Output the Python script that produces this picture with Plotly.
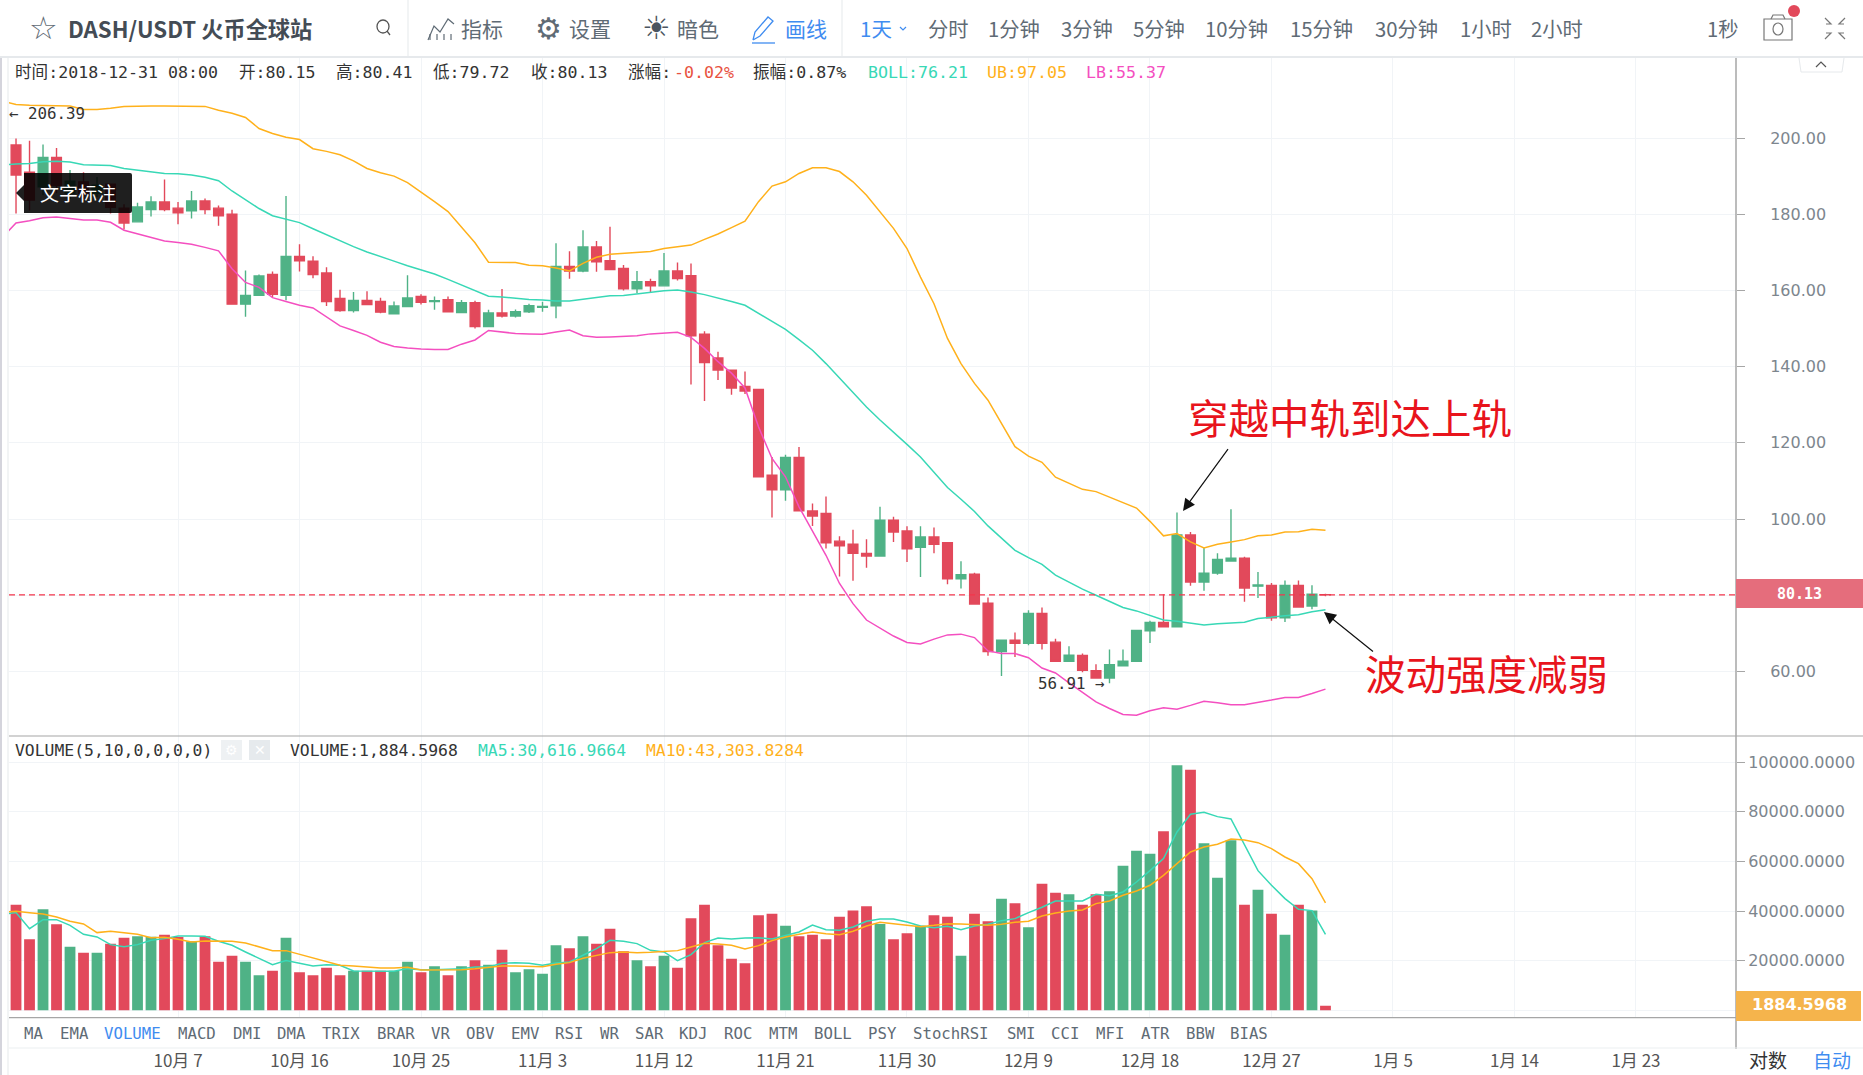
import pandas as pd
import plotly.graph_objects as go

W, H = 1863, 1075
LEFT, RIGHT = 9, 1736
TOP, BOTTOM = 58, 1049

FONT_MONO = "DejaVu Sans Mono, Noto Sans CJK SC, monospace"
FONT_CJK = "Noto Sans CJK SC, sans-serif"
FONT_NUM = "DejaVu Sans, sans-serif"

RED = "#e2495b"
GREEN = "#4fb286"
TEAL = "#38d8b6"
ORANGE = "#ffb11b"
PINK = "#f44fc0"
BLUE = "#3f8cf0"
TEXT = "#333333"
GREY = "#5f6b75"
GRID = "#f1f4f7"
AXIS = "#a6a6a6"

# daily candles, 2018-09-25 .. 2018-12-31
opens = [
    198.2, 191, 187.2, 194.9, 185.5, 188.5, 185.5, 187.9, 181.6, 178,
    181.2, 183.2, 181.6, 180.9, 183.5, 181.6, 180, 156.4, 158.7, 164.2,
    158.7, 168.9, 167.7, 164.6, 157.9, 154.7, 157.4, 157.1, 153.9, 155.8,
    158.4, 157.1, 157.6, 154.2, 156.8, 150.5, 154.1, 153.3, 154.4, 155.6,
    156, 166.3, 165.1, 171.4, 167.8, 165.8, 160.4, 162.3, 161.2, 165.1,
    163.9, 148.5, 142.3, 139.1, 134.8, 134, 111.5, 107.7, 116.2, 102.1,
    101.5, 94.2, 93.4, 91, 90.3, 99.7, 96.9, 92.6, 95.3, 93.8,
    84.3, 85.5, 77.9, 65.2, 68.2, 67.4, 75.2, 67.7, 62.7, 64.2,
    60.2, 58.3, 61.5, 62.7, 70.7, 72.9, 71.7, 95.8, 83.5, 85.8,
    89, 89.7, 82.4, 82.6, 74.1, 82.6, 77.2, 80.15,
]
closes = [
    190.3, 183.7, 194.9, 187.6, 188.7, 185.5, 187.6, 181.8, 177.7, 181.9,
    183.2, 181.2, 180.4, 183.5, 181.2, 179.6, 156.4, 158.7, 163.8, 159,
    168.9, 167.8, 164.2, 157.1, 154.7, 157.4, 156.3, 154.3, 155.9, 158,
    156.9, 157.3, 154.4, 156.8, 150.5, 154.1, 153.3, 154.4, 156, 155.8,
    166.3, 165.1, 171.4, 167.5, 165.5, 160.4, 162.3, 161.2, 165.1, 163.1,
    148.1, 141.1, 139.1, 134.4, 133.6, 111.1, 107.7, 116.2, 102.2, 100.8,
    93.8, 93, 91, 90.3, 99.7, 96.6, 92.2, 95.3, 93.4, 84.3,
    85.4, 77.7, 65.2, 68.2, 67.4, 75.2, 67.4, 62.7, 64.3, 60.3,
    58.3, 61.8, 62.7, 70.8, 72.9, 71.7, 95.8, 83.5, 85.8, 89.4,
    89.7, 81.9, 82.7, 74.1, 82.6, 76.9, 80.3, 80.13,
]
highs = [
    199.9, 199.3, 198.3, 197.4, 191.6, 191, 189.8, 188, 182.6, 183,
    184.7, 189.1, 183.2, 186.1, 184.1, 182.3, 181.2, 165.2, 164.2, 165,
    184.8, 172.1, 169, 166.1, 160.2, 159.6, 159.8, 158.1, 157.1, 164,
    159, 158.4, 158.4, 157.5, 157.3, 154.9, 160.4, 155, 156.5, 157,
    172.4, 170.3, 175.8, 173, 176.7, 166.7, 165.1, 163.1, 169.8, 167.3,
    167.1, 149.3, 143.9, 139.1, 138.7, 134, 116.3, 116.9, 118.9, 104.1,
    105.9, 95.5, 97.2, 94.7, 103.2, 100.6, 98.1, 98.1, 97.8, 93.8,
    88.9, 85.9, 79.4, 68.3, 70.2, 76.1, 76.8, 68.6, 66.6, 64.7,
    61.9, 65.8, 65.8, 70.8, 73.3, 80.3, 101.7, 96.6, 92.4, 91,
    102.6, 90.1, 86.1, 83.2, 83.9, 83.9, 82.6, 80.41,
]
lows = [
    180.2, 181, 185, 185.5, 184, 184, 184.5, 180.2, 176, 178,
    179.4, 180.8, 177.4, 178.9, 180, 177, 156.4, 153.1, 158.7, 158.2,
    157.4, 165, 163.2, 155.9, 154.4, 154.2, 156.3, 154, 153.9, 155.8,
    156.3, 154.9, 154.4, 154.2, 150, 150.5, 152.9, 152.9, 154.1, 154.4,
    152.7, 163.1, 164.8, 164.9, 165.3, 160, 159.3, 159.6, 161.2, 162.6,
    135.3, 131, 136.5, 132.6, 132.8, 111.1, 100.4, 104.8, 102.2, 98.2,
    92.3, 84.9, 83.8, 87.2, 90.3, 94, 88.7, 84.8, 91, 82.9,
    81.8, 77.7, 64.1, 58.8, 63.8, 66.9, 65.8, 62.5, 62.7, 59.8,
    58.3, 56.91, 61.5, 62.7, 67.5, 71.7, 71.7, 82.5, 81.2, 85.4,
    89, 78.3, 79.3, 73.3, 73, 76.9, 76.3, 79.72,
]
volumes = [
    42600, 28630, 40720, 34680, 25670, 23250, 23250, 26880, 29300, 29840,
    29700, 30510, 29570, 27820, 29840, 19620, 22040, 19620, 14110, 15990,
    29300, 15320, 14110, 17200, 14110, 15990, 15990, 15990, 15990, 19620,
    15320, 17740, 14110, 17740, 20160, 18410, 24460, 15320, 16530, 14780,
    26210, 25000, 29840, 26880, 32930, 23790, 20160, 17740, 22040, 17200,
    37090, 42600, 26210, 20830, 18950, 38300, 38980, 34140, 29840, 30510,
    28630, 37770, 40190, 41930, 34810, 28630, 31050, 34140, 38300, 37770,
    22040, 38980, 35880, 45020, 43140, 33470, 51070, 47440, 46770, 42600,
    46770, 47980, 58330, 64380, 63170, 72170, 98780, 97040, 67330, 53490,
    68540, 42600, 48650, 38980, 30510, 42600, 40190, 1884.6,
]

# indicator lines start one day before the first visible candle
boll_mid = [
    192.9, 193.2, 193.3, 193.8, 193.9, 193.7, 193, 192.9, 192.8, 192, 191.6,
    191.2, 190.7, 190.6, 190.3, 189.7, 188.8, 186.1, 183.7, 181.5, 179.6,
    178.6, 177.8, 176.2, 174.6, 173.1, 171.5, 170.1, 168.8, 167.7, 166.5,
    165.4, 164.3, 162.9, 161.4, 159.9, 158.5, 158.3, 158, 157.6, 157.5,
    157.2, 157.2, 157.7, 158.2, 158.6, 158.7, 159.1, 159.4, 159.9, 160.1,
    159.6, 158.9, 158.1, 157.1, 156.1, 154, 151.8, 149.8, 147.1, 144.3,
    140.8, 137, 133, 129.4, 126, 122.9, 119.6, 116.3, 112.4, 108.3,
    105.2, 102, 98.2, 94.9, 91.8, 89.9, 88.1, 85.3, 83.4, 81.6,
    80, 78.4, 76.8, 75.9, 74.7, 73.5, 73.2, 72.6, 72.2, 72.5,
    72.7, 72.9, 73.9, 74.3, 74.6, 74.9, 75.7, 76.21,
]
boll_upper = [
    209.7, 208.8, 208.6, 208.6, 208.5, 208.4, 207.5, 207.5, 207.8, 208.3, 208.4,
    208.4, 208.4, 208.4, 208.4, 208.3, 207.3, 206.5, 205.4, 202.5, 201.2,
    200.2, 199.6, 197.2, 196.5, 195.6, 194, 192, 190.9, 190, 188.3,
    185.9, 183.3, 180.7, 176.7, 172.5, 167.4, 167.4, 167.3, 166.6, 166.5,
    165.9, 165.1, 167.1, 168.7, 169.5, 169.7, 170, 170.2, 171, 171.4,
    171.9, 173.4, 174.8, 176.5, 178.2, 183.3, 187.4, 188.5, 190.7, 192.2,
    192.2, 191.2, 188.5, 185, 180.6, 176.3, 171, 163.5, 156.5, 147.4,
    140.8, 135.6, 131.2, 125.1, 119, 116.5, 114.9, 111, 109.3, 107.8,
    107.2, 105.8, 104.4, 102.9, 99.4, 95.6, 96.2, 94, 92.4, 93.4,
    94, 94.6, 95.6, 95.8, 96.6, 96.7, 97.3, 97.05,
]
boll_lower = [
    174, 177.7, 178.3, 179.1, 179.3, 178.9, 178.5, 178.5, 177.9, 175.8, 174.8,
    173.9, 173, 172.6, 172.1, 171.3, 170.4, 165.7, 162.1, 160.8, 158.1,
    157.1, 156.1, 155.4, 153, 150.7, 149.5, 148.2, 146.4, 145.3, 144.9,
    144.6, 144.5, 144.5, 145.9, 147, 149.5, 149, 148.7, 148.6, 148.5,
    149.1, 149.6, 148.1, 147.7, 147.8, 147.9, 148.1, 148.6, 148.8, 149,
    147.7, 144.8, 141.3, 138.3, 134.4, 124.2, 115.9, 111.1, 103.2, 97,
    90.5, 83.1, 77.8, 73.5, 71.3, 69.3, 67.6, 67.2, 68.5, 69.6,
    69.8, 68.9, 65.4, 64.7, 64.7, 63.6, 60.9, 59.6, 57, 54.6,
    52, 50.3, 48.7, 48.5, 49.7, 50.5, 50.1, 51.1, 52.2, 51.8,
    51.3, 51.3, 52, 52.5, 53.2, 53.2, 54.2, 55.37,
]
vol_ma5 = [
    38700, 39380, 32930, 36560, 36560, 34270, 30640, 29570, 26480, 25670, 26480,
    28220, 28900, 29970, 29970, 29840, 27820, 26210, 23520, 21100, 18410,
    20030, 18950, 17880, 18410, 18140, 15860, 15860, 15720, 15720, 16800,
    16400, 16400, 16530, 16800, 17470, 17470, 18950, 19220, 18950, 18140,
    19080, 19490, 22180, 24860, 28220, 27820, 26880, 24190, 23520, 20030,
    22440, 27280, 29160, 28760, 29160, 29300, 28760, 30240, 31580, 34410,
    32520, 32260, 33600, 35880, 36830, 36830, 35620, 34000, 33330, 33870,
    32520, 34000, 34680, 36150, 36960, 39380, 41530, 44080, 44080, 44080,
    46770, 46230, 47710, 51740, 56310, 61150, 71900, 79030, 79830, 78090,
    77150, 66530, 56310, 50400, 45020, 40720, 40190, 30617,
]
vol_ma10 = [
    39650, 39920, 39380, 38840, 37630, 35880, 34810, 31320, 31850, 31180, 30640,
    29300, 29430, 28630, 27550, 27960, 27820, 27820, 27150, 25670, 24060,
    24060, 22580, 21100, 19890, 18140, 17880, 17470, 17070, 17070, 17340,
    16260, 16260, 16260, 16400, 16800, 17200, 17880, 17880, 17880, 17610,
    18550, 19220, 20970, 22180, 23250, 23520, 23250, 23390, 23790, 24060,
    25540, 27010, 26750, 26210, 24730, 26070, 28090, 29570, 30640, 31580,
    30910, 30510, 31850, 34000, 35480, 34940, 34270, 33730, 34270, 34940,
    34810, 34680, 34270, 34680, 35480, 35880, 38040, 39240, 40050, 40450,
    43010, 44080, 46370, 48110, 50400, 54430, 59140, 63840, 65860, 66930,
    69080, 68680, 67600, 65180, 61820, 59140, 53090, 43304,
]

# the 80 and 0 labels sit under the last-value flags, so they stay blank
price_ticks = [60, 80, 100, 120, 140, 160, 180, 200]
price_labels = ["60.00", "", "100.00", "120.00", "140.00", "160.00", "180.00", "200.00"]
volume_ticks = [0, 20000, 40000, 60000, 80000, 100000]
volume_labels = ["", "20000.0000", "40000.0000", "60000.0000", "80000.0000", "100000.0000"]
date_ticks = ["2018-10-07", "2018-10-16", "2018-10-25", "2018-11-03", "2018-11-12",
              "2018-11-21", "2018-11-30", "2018-12-09", "2018-12-18", "2018-12-27",
              "2019-01-05", "2019-01-14", "2019-01-23"]
date_labels = ["10月 7", "10月 16", "10月 25", "11月 3", "11月 12", "11月 21", "11月 30",
               "12月 9", "12月 18", "12月 27", "1月 5", "1月 14", "1月 23"]

period_labels = ["分时", "1分钟", "3分钟", "5分钟", "10分钟", "15分钟", "30分钟", "1小时", "2小时"]
period_lefts = [928, 988, 1061, 1133, 1205, 1290, 1375, 1460, 1531]
tool_labels = ["指标", "设置", "暗色", "画线"]
tool_lefts = [461, 569, 677, 785]
study_labels = ["MA", "EMA", "VOLUME", "MACD", "DMI", "DMA", "TRIX", "BRAR", "VR", "OBV", "EMV",
                "RSI", "WR", "SAR", "KDJ", "ROC", "MTM", "BOLL", "PSY", "StochRSI", "SMI", "CCI",
                "MFI", "ATR", "BBW", "BIAS"]
study_lefts = [24, 60, 104, 178, 233, 277, 322, 377, 431, 466, 511, 555, 600, 635, 679, 724, 769,
               814, 868, 913, 1007, 1051, 1096, 1141, 1186, 1230]

candle_dates = pd.date_range("2018-09-25", periods=len(closes))
line_dates = pd.date_range("2018-09-24", periods=len(boll_mid))


def fx(x):
    return (x - LEFT) / (RIGHT - LEFT)


def fy(y):
    return (BOTTOM - y) / (BOTTOM - TOP)


annotations = []
shapes = []


def label(x, y, s, size=16, color=TEXT, font=FONT_MONO, anchor="left", bold=False):
    annotations.append(dict(
        x=fx(x), y=fy(y), xref="paper", yref="paper", text=f"<b>{s}</b>" if bold else s,
        showarrow=False, xanchor=anchor, yanchor="middle", borderpad=0, borderwidth=0,
        font=dict(size=size, color=color, family=font),
    ))


def arrow(x0, y0, x1, y1):
    annotations.append(dict(
        x=fx(x1), y=fy(y1), ax=x0 - x1, ay=y0 - y1, xref="paper", yref="paper",
        axref="pixel", ayref="pixel", text=" ", showarrow=True, arrowhead=2,
        arrowsize=2, arrowwidth=1.2, arrowcolor="#111111",
    ))


def rect(x0, y0, x1, y1, fill, line=None, width=0, kind="rect"):
    shapes.append(dict(
        type=kind, xref="paper", yref="paper", x0=fx(x0), x1=fx(x1), y0=fy(y0), y1=fy(y1),
        fillcolor=fill, line=dict(color=line or fill, width=width), layer="above",
    ))


def stroke(points, color, width=1.5, closed=False, fill=None):
    path = "M " + " L ".join(f"{fx(x):.5f} {fy(y):.5f}" for x, y in points) + (" Z" if closed else "")
    shapes.append(dict(
        type="path", xref="paper", yref="paper", path=path, layer="above",
        line=dict(color=color, width=width), fillcolor=fill or "rgba(0,0,0,0)",
    ))


fig = go.Figure()
fig.add_trace(go.Candlestick(
    x=candle_dates, open=opens, high=highs, low=lows, close=closes,
    increasing=dict(line=dict(color=GREEN, width=1.4), fillcolor=GREEN),
    decreasing=dict(line=dict(color=RED, width=1.4), fillcolor=RED),
    whiskerwidth=0, xaxis="x", yaxis="y", showlegend=False,
))
for values, color in [(boll_mid, TEAL), (boll_upper, ORANGE), (boll_lower, PINK)]:
    fig.add_trace(go.Scatter(
        x=line_dates, y=values, mode="lines", line=dict(color=color, width=1.5),
        xaxis="x", yaxis="y", showlegend=False,
    ))
fig.add_trace(go.Bar(
    x=candle_dates, y=volumes, xaxis="x2", yaxis="y2", showlegend=False,
    marker=dict(color=[GREEN if c > o else RED for o, c in zip(opens, closes)], line=dict(width=0)),
))
for values, color in [(vol_ma5, TEAL), (vol_ma10, ORANGE)]:
    fig.add_trace(go.Scatter(
        x=line_dates, y=values, mode="lines", line=dict(color=color, width=1.5),
        xaxis="x2", yaxis="y2", showlegend=False,
    ))

# page chrome
rect(0, 0, W, 56, "#ffffff")
rect(0, 56, W, 58, "#e6e9ec")
rect(0, 58, 2, H, "#d4d4dc")
rect(7.5, 58, 8.5, H, "#e6e9ec")
rect(407.5, 0, 408.5, 56, "#e6e9ec")
rect(841.5, 0, 842.5, 56, "#e6e9ec")
rect(RIGHT - 0.75, TOP, RIGHT + 0.75, BOTTOM, AXIS)
rect(LEFT, 735.5, W, 736.5, AXIS)
rect(LEFT, 1017, RIGHT, 1018.2, AXIS)
rect(LEFT, 1047.5, W, 1048.5, "#eceff2")

# last price line and axis flags
shapes.append(dict(type="line", xref="paper", yref="y", x0=0, x1=1, y0=80.13, y1=80.13, layer="above",
                   line=dict(color="#f4364c", width=1.2, dash="6px,4px")))
rect(RIGHT, 579, W, 608, "#e56d7c")
label(1799, 594, "80.13", 15, "#ffffff", FONT_MONO, "center", True)
rect(RIGHT, 991, 1861, 1021, "#f5b44c")
label(1799, 1004, "1884.5968", 16, "#ffffff", FONT_NUM, "center", True)

# toolbar
label(43, 28, "☆", 32, GREY, FONT_NUM, "center")
label(68, 28, "DASH/USDT 火币全球站", 22.2, "#444c55", FONT_CJK, bold=True)
rect(377, 20, 389, 33, "rgba(0,0,0,0)", "#555555", 1.3, "circle")
stroke([(387, 31), (390, 35)], "#555555", 1.3)
stroke([(428, 40), (434, 26), (440, 32), (448, 19), (454, 24)], GREY, 1.2)
for x_bar in (430, 437, 444, 451):
    stroke([(x_bar, 40), (x_bar, 34)], GREY, 1.2)
label(548, 28, "⚙", 30, GREY, FONT_NUM, "center")
label(656, 28, "☀", 32, "#4a5560", FONT_NUM, "center")
stroke([(753, 40), (755, 32), (768, 17), (773, 21), (760, 36), (753, 40)], BLUE, 1.3)
stroke([(752, 43), (775, 43)], BLUE, 1.3)
for text, left in zip(tool_labels, tool_lefts):
    label(left, 28, text, 21, BLUE if text == "画线" else GREY, FONT_CJK)
label(860, 28, "1天", 20.5, BLUE, FONT_CJK)
stroke([(900, 27), (903, 30), (906, 27)], BLUE, 1.2)
for text, left in zip(period_labels, period_lefts):
    label(left, 28, text, 20.3, GREY, FONT_CJK)
label(1707, 28, "1秒", 20.3, GREY, FONT_CJK)
rect(1764, 19, 1792, 40, "rgba(0,0,0,0)", "#777777", 1.2)
rect(1773, 23, 1783, 35, "rgba(0,0,0,0)", "#777777", 1.2, "circle")
stroke([(1771, 19), (1773, 15), (1783, 15), (1785, 19)], "#777777", 1.2)
rect(1788, 5, 1800, 17, RED, None, 0, "circle")
stroke([(1825, 18), (1831, 24), (1826, 24)], "#777777", 1.2)
stroke([(1845, 18), (1839, 24), (1844, 24)], "#777777", 1.2)
stroke([(1825, 39), (1831, 33), (1826, 33)], "#777777", 1.2)
stroke([(1845, 39), (1839, 33), (1844, 33)], "#777777", 1.2)
stroke([(1799, 58), (1801, 72), (1842, 72), (1844, 58)], "#e6e9ec", 1)
stroke([(1816, 67), (1821, 62), (1826, 67)], "#555555", 1.2)

# price legend
info = [(15, "时间:2018-12-31 08:00", TEXT), (239, "开:80.15", TEXT), (336, "高:80.41", TEXT),
        (433, "低:79.72", TEXT), (531, "收:80.13", TEXT), (627.5, "涨幅:", TEXT), (674, "-0.02%", "#e8523f"),
        (753, "振幅:0.87%", TEXT), (868, "BOLL:76.21", TEAL), (986.5, "UB:97.05", ORANGE), (1086, "LB:55.37", PINK)]
for left, text, color in info:
    label(left, 73, text, 16.6, color)

# volume legend
label(15, 750, "VOLUME(5,10,0,0,0,0)", 16.4)
rect(221, 740, 242, 760, "#eef1f3")
rect(249, 740, 270, 760, "#e6eaed")
label(231.5, 750, "⚙", 14, "#ffffff", FONT_NUM, "center")
label(259.5, 750, "✕", 14, "#ffffff", FONT_NUM, "center")
label(290, 750, "VOLUME:1,884.5968", 16.4)
label(478, 750, "MA5:30,616.9664", 16.4, TEAL)
label(646, 750, "MA10:43,303.8284", 16.4, ORANGE)

# high / low markers
label(9, 113, "← 206.39", 15.8)
label(1038, 683, "56.91 →", 15.8)

# drawing tool note
shapes.append(dict(type="path", xref="paper", yref="paper", layer="above", fillcolor="rgba(0,0,0,0.88)",
                   line=dict(width=0),
                   path=f"M {fx(24)} {fy(173)} L {fx(130)} {fy(173)} Q {fx(132)} {fy(173)} {fx(132)} {fy(175)} "
                        f"L {fx(132)} {fy(211)} Q {fx(132)} {fy(213)} {fx(130)} {fy(213)} L {fx(24)} {fy(213)} "
                        f"L {fx(24)} {fy(201)} L {fx(16)} {fy(193)} L {fx(24)} {fy(185)} Z"))
label(78, 192, "文字标注", 19, "#ffffff", FONT_CJK, "center")

# study tabs and scale modes
for text, left in zip(study_labels, study_lefts):
    label(left, 1033, text, 15.7, BLUE if text == "VOLUME" else GREY)
label(1749, 1059, "对数", 19, TEXT, FONT_CJK)
label(1813, 1059, "自动", 19, BLUE, FONT_CJK)

# hand-written notes
label(1188, 416, "穿越中轨到达上轨", 40.5, "#e8141c", FONT_CJK)
label(1365, 672, "波动强度减弱", 40.5, "#e8141c", FONT_CJK)
arrow(1231, 445, 1183, 511)
arrow(1376, 654, 1324, 612)

x_range = ["2018-09-24 11:31", "2019-01-30 09:50"]
base_x = dict(range=x_range, type="date", tickvals=date_ticks, gridcolor=GRID, gridwidth=1.2,
              showline=False, zeroline=False, rangeslider=dict(visible=False), ticks="")
tick_font = dict(size=16, color="#7d868e", family=FONT_NUM)

fig.update_layout(
    width=W, height=H,
    margin=dict(l=LEFT, r=W - RIGHT, t=TOP, b=H - BOTTOM, autoexpand=False),
    paper_bgcolor="#ffffff", plot_bgcolor="#ffffff",
    boxgap=0.28, boxgroupgap=0, bargap=0.2, showlegend=False, hovermode=False,
    xaxis=dict(base_x, domain=[0, 1], anchor="y", showticklabels=False),
    xaxis2=dict(base_x, domain=[0, 1], anchor="free", position=0, matches="x", ticktext=date_labels,
                showticklabels=True, tickfont=dict(size=17, color="#555555", family=FONT_CJK)),
    yaxis=dict(domain=[fy(735.5), 1], range=[43.2, 221], side="right", anchor="x", tickvals=price_ticks,
               ticktext=price_labels, ticks="outside", ticklen=8, tickcolor=AXIS, gridcolor=GRID, gridwidth=1.2,
               zeroline=False, showline=False, tickfont=tick_font, ticklabelstandoff=22),
    yaxis2=dict(domain=[fy(1017.5), fy(736)], range=[-2903, 110600], side="right", anchor="x2",
                tickvals=volume_ticks, ticktext=volume_labels, ticks="outside", ticklen=8, tickcolor=AXIS,
                gridcolor=GRID, gridwidth=1.2, zeroline=False, showline=False, tickfont=tick_font,
                ticklabelstandoff=0),
    shapes=shapes, annotations=annotations,
)

fig.write_html(
    "out.html",
    config={"displayModeBar": False},
    post_script="document.body.style.margin='0';document.body.style.overflow='hidden';",
)
